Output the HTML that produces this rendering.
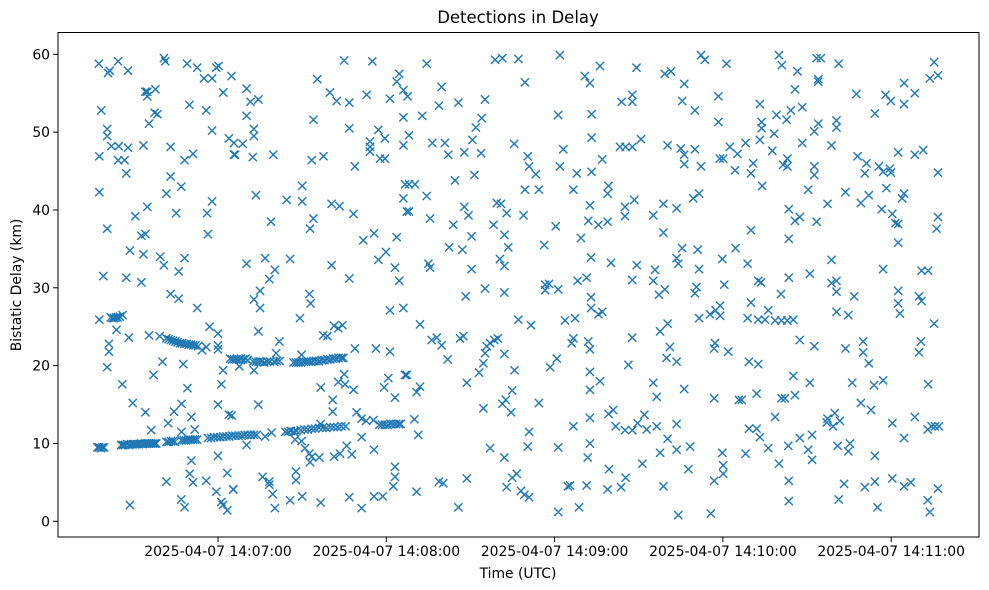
<!DOCTYPE html>
<html><head><meta charset="utf-8"><style>
html,body{margin:0;padding:0;background:#fff;}
svg{display:block;font-family:"DejaVu Sans","Liberation Sans",sans-serif;}
</style></head><body>
<svg id="chart" width="989" height="590" viewBox="0 0 989 590" xmlns="http://www.w3.org/2000/svg">
<rect x="0" y="0" width="989" height="590" fill="#fff"/>
<text x="518" y="23" font-size="16.5" text-anchor="middle" fill="#000">Detections in Delay</text>
<g id="marks"></g>
<rect x="58" y="32.5" width="921" height="504.5" fill="none" stroke="#000" stroke-width="1"/>
<g id="xaxis"></g>
<g id="yaxis"></g>
<text x="518" y="578" font-size="13.9" text-anchor="middle" fill="#000">Time (UTC)</text>
<text x="0" y="0" font-size="13.9" text-anchor="middle" fill="#000" transform="translate(21,285) rotate(-90)">Bistatic Delay (km)</text>
</svg>
<script>
const xTickSec = [60,120,180,240,300];
const xTickLabels = ["2025-04-07 14:07:00","2025-04-07 14:08:00","2025-04-07 14:09:00","2025-04-07 14:10:00","2025-04-07 14:11:00"];
const yTickVals = [0,10,20,30,40,50,60];
const yTickLabels = ["0","10","20","30","40","50","60"];
// seconds since 14:06:00, bistatic delay km
const trackPoints = [
[17,9.5],[17.6,9.5],[18.2,9.4],[18.8,9.5],[19.4,9.5],
[25.5,9.8],[26.2,9.8],[26.9,9.8],[27.6,9.9],[28.3,9.8],[29,9.9],[29.7,9.9],[30.4,9.9],[31.1,9.9],[31.8,9.9],[32.5,10],[33.2,9.9],[33.9,10],[34.6,10],[35.3,10],[36,10],[36.7,10],[37.4,10],[38,10],
[41.6,10.2],[42.4,10.2],[43.2,10.3],[44,10.3],[44.6,10.2],
[47,10.4],[47.8,10.4],[48.6,10.4],[49.4,10.5],[50.2,10.5],[51,10.5],[51.8,10.5],[52.6,10.5],
[56.4,10.7],[57.5,10.7],[58.6,10.8],[59.7,10.8],[60.8,10.8],[61.9,10.9],[63,10.9],[64,10.9],[65.1,11],[66.2,11],[67.3,11],[68.4,11],[69.5,11.1],[70.6,11.1],[71.7,11.1],[72.8,11.1],[73.8,11.1],
[84,11.5],[85,11.5],[86,11.6],[87,11.5],[88,11.6],
[89.5,11.7],[90.8,11.8],[92,11.8],[93.4,11.9],[94.6,11.9],[96,12],[97.3,12],[98.6,12],[100,12.1],[101.3,12.1],[102.6,12.1],[104,12.2],[105.5,12.2],
[117.5,12.4],[118.5,12.4],[119.5,12.4],[120.5,12.4],[121.5,12.5],[122.5,12.5],[123.5,12.5],[124.5,12.5],[125.1,12.5],
[21.8,26.2],[22.4,26.1],[23,26.1],[23.6,26.2],[24.2,26.2],[25,26.3],[26,26.5],
[41.6,23.5],[42.4,23.4],[43.2,23.3],[44,23.2],[44.8,23.1],[45.6,23],[46.4,22.9],[47.2,22.9],[48,22.8],[48.8,22.8],[49.6,22.7],[50.4,22.7],[51.2,22.6],[52,22.6],[52.9,22.5],
[64.3,20.9],[65,20.8],[65.8,20.8],[66.6,20.8],[67.4,20.8],[68.2,20.9],[69,20.8],[69.8,20.9],[70.6,20.7],[72.5,20.5],[73.5,20.5],[74.5,20.5],[75.5,20.5],[76.5,20.4],[77.5,20.5],[78.5,20.5],[80,20.5],[81,20.6],[82,20.6],
[86.9,20.4],[87.8,20.4],[88.7,20.4],[89.6,20.4],[90.5,20.5],[91.4,20.5],[92.3,20.5],[93.2,20.5],[94.1,20.6],[95,20.6],[96,20.6],[97,20.7],[98,20.7],[99,20.8],[100,20.8],[101,20.9],[102,20.9],[103,21],[104,21],[104.7,21]
];
const scatterPoints = [
[17.5,58.8],[20.8,57.6],[21.4,57.9],[24.4,59.1],[27.9,57.9],[40.7,59.5],[41.2,59.1],[49,58.8],[52.6,58.3],[55,56.9],[57.9,56.9],[59.4,58.3],[60.2,58.5],[64.8,57.2],[61.9,55.1],
[34.8,55.2],[34.1,55.2],[37.7,55.5],[34.8,54.6],[18.4,52.8],[37.4,52.5],[38.4,52.3],[35.4,51.1],[49.8,53.5],[55.8,52.8],[20.5,50.4],[20.5,49.5],[22,48.2],[24.6,48.2],[27.9,48],
[33.4,48.3],[43.1,48.1],[57.9,50.2],[63.9,49.2],[65.7,48.6],[65.7,47.1],[17.7,46.9],[24.4,46.4],[26.7,46.4],[48.1,46.4],[51.1,47.2],[27.3,44.7],[43.1,44.3],[46.9,43],[41.6,42.1],
[17.7,42.3],[57.9,41.1],[34.8,40.4],[30.5,39.2],[45.1,39.6],[56.1,39.6],[20.5,37.6],[32.7,36.7],[34.1,36.9],[56.4,36.9],[28.6,34.8],[33.4,34.3],[39.4,34],[40.7,32.9],[48.1,33.8],
[46,32.1],[19.1,31.5],[27.3,31.3],[32.7,30.7],[43.1,29.2],[46,28.6],[52.6,27.4],[17.7,25.9],[23.8,24.6],[28.2,23.6],[35.4,23.9],[39.2,23.8],[57,25],[60,24.1],
[54.3,22],[55.8,22.4],[60,22.6],[60,22.1],[21.1,22.8],[21.1,21.8],[20.5,19.8],[40.2,20.5],[47.6,20.2],[37,18.8],[61.8,19.4],[25.9,17.6],[49.1,17.1],[61.2,17.6],
[29.6,15.2],[34.1,14],[47,15.1],[44.3,14.1],[50.5,13.4],[42.2,12.6],[60,15],[63.9,13.7],[36.2,11.7],[47,11.5],[51.7,11.8],
[50.5,7.8],[60,8.4],[63.3,6.2],[41.6,5.1],[49.9,6.1],[51.1,5],[55.8,5.2],[59.4,3.8],[65.4,4.1],[28.6,2.1],[46.9,2.8],[48.1,1.8],[61.2,2.5],[61.8,2.1],[63.3,1.4],
[70.2,55.6],[71.6,53.9],[74.4,54.2],[70.2,52.1],[72.8,50.4],[72.8,49.5],[66.1,47.1],[68.8,48.5],[72.4,46.8],[79.7,47.1],[95.4,56.8],[105,59.2],[115,59.1],[99.9,55.1],[102.3,54],
[106.8,53.8],[113,54.8],[121.3,54.3],[124.6,57.5],[123.7,56.5],[126.1,55.4],[94,51.6],[106.8,50.5],[117.2,50.3],[119.5,49.2],[114.2,48.8],[114.2,48.1],[126.1,48.3],[126.1,51.9],
[93.4,46.4],[97.6,46.9],[108.8,45.6],[117.8,46.6],[119.5,46.6],[114.2,47.5],[90,43.1],[73.5,41.9],[84.5,41.3],[90,41.1],[100.5,40.8],[103.3,40.5],[108.3,39.5],[126.1,41.5],
[126.7,43.3],[127.3,39.8],[78.9,38.5],[94,38.9],[92.8,37.6],[111.8,36.1],[115.6,37],[123.7,36.5],[70.2,33.1],[76.8,33.8],[85.7,33.7],[80.3,32.3],[78.3,31.1],[100.5,32.9],
[117.2,33.6],[119.9,34.6],[123.1,32.6],[124.6,30.9],[106.8,31.2],[72.8,28.5],[75,29.6],[75,27.4],[92.6,29.2],[93,28],[89.2,26.1],[74.4,24.4],[81.9,23.1],[97.5,23.9],[99,23.8],
[101.4,25.1],[102.9,24.8],[104.4,25.2],[121.3,27.1],[126.1,27.4],[67.6,19.9],[72.8,19.4],[80.7,21.6],[89.8,21.4],[108.8,22.2],[116.3,22.2],[121.3,21.8],[126.7,18.8],
[105,18.9],[102.9,17.9],[105.3,17.6],[108.3,16.9],[96.6,17.2],[100.9,15.6],[100.9,14.1],[120.7,18.4],[119.2,17.2],[123.1,15.9],[74.4,15],[64.9,13.6],[109.4,14],[111.2,13.2],
[112.8,12.9],[115.4,13],[76.8,10.9],[79.1,11.4],[70.2,9.8],[87.5,10.5],[89.8,10.3],[96.6,12.5],[91,9.4],[92.6,8.7],[93.4,8.3],[92.8,7.6],[96.1,8.2],[101.4,8.3],[103.5,8.7],
[105.9,9.7],[107.7,8.6],[111.2,10.8],[115.6,9.2],[75.9,5.7],[78.3,5.1],[78.3,4.7],[79.5,3.5],[87.8,6.4],[87.8,5.3],[65.5,4.1],[80.3,1.7],[85.7,2.7],[90,3.2],[96.6,2.4],
[106.8,3.1],[111.2,1.7],[115.6,3.2],[118.7,3.2],[122.5,4.5],[123.1,5.7],[123.1,7],
[134.4,58.8],[158.8,59.3],[161.4,59.5],[167.1,59.4],[181.9,59.9],[169.4,56.4],[190.8,57.2],[192.6,56.3],[139.7,55.8],[127.6,54.6],[145.7,53.8],[155.2,54.2],[138.8,53.4],
[132.8,52.1],[154,51.8],[151.9,50.6],[181.3,52.2],[193.2,52.3],[128.1,49.6],[136.4,48.6],[140.9,48.6],[150.7,49],[142.1,47.1],[147.8,47.4],[153.8,47.3],[165.6,48.5],[170.4,46.9],
[170.9,45.6],[173.3,44.6],[181.9,45.6],[183.1,47.8],[193.2,49.3],[187.9,44.7],[193.2,44.9],[151.4,44.5],[144.5,43.8],[128.1,43.3],[130.2,43.3],[134.4,41.8],[169.4,42.6],
[174.4,42.6],[186.7,42.6],[147.8,40.4],[149.3,39.3],[159.4,40.9],[160.9,40.8],[162.9,39.6],[168.9,39.3],[128.1,39.8],[135.6,38.9],[143.9,38.1],[158.2,38.1],[180.4,37.9],
[192.6,40.6],[192,38.6],[150.4,36.6],[162.1,36.8],[142.4,35.2],[147.1,34.9],[163.5,35.2],[176.3,35.5],[189.4,36.4],[135,33.1],[135.6,32.6],[150.4,32.4],[160.5,33.7],[162.1,32.8],
[193,33.9],[155.2,29.9],[148.3,28.9],[162.1,29.4],[176.6,30.4],[176.6,29.7],[178,30.5],[181.3,29.8],[188.2,30.9],[191.4,31.3],[193,28.8],[193,27.4],[167.1,25.9],[171.6,25.2],
[183.7,25.8],[187.3,26.1],[132,25.3],[136.2,23.3],[138,23.6],[139.7,22.6],[146.3,23.5],[147.5,23.8],[155.8,22.5],[157,22.9],[158.5,23.3],[159.7,23.5],[155.2,21.6],[154.6,20.3],
[153.1,19.1],[162.1,21.5],[141.9,20.8],[165.7,19.4],[178.4,19.8],[180.8,20.9],[186.1,22.9],[186.7,23.5],[192,23.1],[192.6,22.1],[192.6,19.2],[192.6,16.9],[127.3,18.8],
[130.8,16.6],[132,17.3],[148.7,17.8],[164.9,16.8],[154.6,14.5],[161.4,15.1],[162.6,15.6],[164.5,14],[174.4,15.2],[130,13.1],[131.4,11.1],[170.9,11.5],[186.7,12.2],[192.6,13.3],
[192.6,10],[157,9.4],[162.1,8.2],[170.4,9.6],[181.3,9.5],[191.8,8.2],[130.8,3.8],[138.8,5.1],[140.3,4.9],[148.7,5.5],[145.7,1.8],[162.9,4.4],[164.9,5.6],[166.5,6.1],[168,3.9],
[169.2,3.4],[170.9,3.1],[181.3,1.2],[184.7,4.5],[185.5,4.6],[191.4,4.6],[188.7,1.8],
[196.2,58.5],[209.2,58.3],[219.3,57.5],[221.5,57.8],[232.2,59.9],[233.6,59.3],[241.3,58.8],[260,59.9],[261,58.6],[226.2,56.2],[238.4,54.6],[203.9,53.9],[207.7,54.8],[207.7,53.9],
[225.5,54],[230,52.8],[253.2,53.6],[259.1,52.2],[238.4,51.3],[253.8,51.3],[253.8,50.5],[258.3,49.8],[253.2,49],[203.3,48.1],[205.3,48.1],[207.7,48.1],[210.8,49.1],[220.3,48.3],
[225,47.9],[226.2,47.1],[226.2,45.9],[230,47.8],[232.2,45.6],[238.9,46.6],[240.1,46.6],[242.5,48.1],[245.2,47.2],[248.1,48.6],[244.3,45.1],[250,44.7],[250.8,46],[257.6,47.6],
[261.5,45.8],[197,46.5],[199.2,43.1],[198.9,42.1],[254,43.1],[205.1,40.4],[205.1,39.2],[208.4,41.3],[215.2,39.3],[218.8,40.8],[223.5,40.2],[229.4,41.5],[231.5,42.1],[195.6,38.1],
[198.9,38.5],[218.8,37.1],[250,37.4],[225.5,35.1],[231,34.9],[244.5,35.1],[200.1,33.2],[209.3,32.9],[215.8,32.3],[223.5,33.8],[224.1,33.1],[231.5,32.4],[239.8,33.7],[248.8,33.1],
[207.7,31],[215.2,30.9],[217.2,29.1],[219.3,29.8],[230,29.3],[230.6,30.1],[240.5,30.4],[252.6,30.9],[253.6,30.7],[260.7,29.2],[250,28.1],[195.6,26.6],[197,26.9],[231.5,26.1],
[235.4,26.6],[237.4,27.1],[239,27.7],[239,26.4],[248.8,26.1],[252.6,25.9],[255,25.9],[256.2,27.1],[258.6,25.8],[260.9,25.8],[217.6,24.4],[220.3,25.4],[207.7,23.6],[221.1,22.4],
[219.9,21],[223.5,20.5],[237.2,22.9],[236.9,22.2],[241.9,21.8],[249.3,20.5],[252.6,20.2],[206.3,20.1],[196.2,18],[215.2,17.8],[216.4,16],[226.2,17],[236.9,15.8],[245.7,15.6],
[246.7,15.6],[252,16.4],[260.9,15.8],[199.2,13.8],[200.9,14.3],[201.8,12.2],[205.1,11.7],[207.7,11.7],[209.6,12.6],[212,13.7],[212.8,11.8],[216.4,12.2],[223.5,12.5],[220.3,10.6],
[217.6,8.8],[223.5,9.2],[228.3,9.6],[239.8,8.8],[248.1,8.7],[249.3,11.9],[252,11.9],[253.2,10.8],[256.2,9.4],[258.6,13.4],[260,7.4],[199.4,6.7],[211.3,7.4],[227.7,6.7],
[240.1,7.2],[240.1,6.1],[236.9,5.2],[198.9,4.1],[203.7,4.4],[205.3,5.6],[218.8,4.5],[224.1,0.8],[235.7,1],
[266.6,57.8],[273.4,59.5],[274.9,59.5],[274,56.8],[274,56.5],[281.3,58.8],[265.7,55.5],[287.6,54.9],[298,54.8],[299.9,54],[304.6,56.3],[304.6,53.6],[308.4,55],[315.3,59],
[313.8,56.9],[316.7,57.3],[264.2,52.8],[268.3,53.2],[262.7,51.6],[274,51.1],[272.6,50.1],[280.5,51.5],[280.5,50.6],[294.2,52.4],[268.3,48.6],[278.7,48.3],[288,46.9],[291.2,46],
[290.6,44.7],[295.6,45.6],[297.1,44.9],[299.5,45.3],[299.9,44.8],[302.5,47.4],[308.4,47.1],[311.4,47.7],[316.7,44.8],[263,46.6],[263,45.6],[272.6,45.6],[272.6,44.5],[270.4,42.6],
[283.7,42.3],[289.2,40.9],[292,41.9],[298.3,42.8],[303.9,41.5],[304.6,42.1],[263.5,40.1],[265.7,38.6],[267.4,39.1],[273.4,38.5],[277.3,40.8],[296.6,40.1],[300.4,39.5],[301.5,38.3],
[302.5,38.2],[302.5,35.8],[316.7,39.1],[316.2,37.6],[263.5,36.3],[278.7,33.6],[263.5,31.3],[271,31.8],[297.1,32.4],[310.8,32.2],[313.2,32.2],[278.7,30.6],[280.5,30.9],[280.5,29.5],
[286.8,28.9],[302.5,29.6],[302.5,28],[303.1,26.7],[309.9,28.9],[310.8,28.3],[280.5,26.9],[284.7,26.5],[315.3,25.4],[263,25.8],[265.1,25.9],[267.4,23.3],[272.6,22.5],[283.7,22.2],
[290,23.1],[290,21.7],[292,20.3],[310.6,23.1],[309.9,21.7],[265.1,18.7],[271,17.8],[286.1,17.8],[293.9,17.5],[297.1,18.1],[313.2,17.6],[262.1,15.8],[265.7,16.2],[289.2,15.2],
[292.8,14.3],[277.3,13.2],[277,12.7],[279.9,13.9],[279.3,12.2],[281.7,12.9],[300.4,12.6],[308.4,13.4],[313,11.8],[314.4,12.2],[315.6,12.2],[317,12.2],[263.3,9.7],[267.4,10.7],
[271.8,11.1],[270.4,9.2],[271.8,7.9],[280.9,9.7],[285.3,10],[284.7,9],[294.2,8.4],[304.6,10.7],[263.5,5.2],[263.5,2.6],[281.3,2.8],[283.2,4.8],[290.6,4.4],[294.2,5.1],[300.4,5.5],
[304.6,4.5],[307,5],[295.1,1.8],[313,2.7],[313.8,1.2],[316.7,4.2]
];

const X0 = 218, XS = 2.805, Y0 = 521.3, YS = 7.783;
function xScale(t){ return X0 + (t - 60) * XS; }
function yScale(d){ return Y0 - d * YS; }
const NS = "http://www.w3.org/2000/svg";

const marks = document.getElementById('marks');
const all = trackPoints.concat(scatterPoints);
let pathD = "";
const h = 4.1;
all.forEach(p => {
  const cx = xScale(p[0]), cy = yScale(p[1]);
  pathD += `M${(cx-h).toFixed(1)},${(cy-h).toFixed(1)}L${(cx+h).toFixed(1)},${(cy+h).toFixed(1)}M${(cx-h).toFixed(1)},${(cy+h).toFixed(1)}L${(cx+h).toFixed(1)},${(cy-h).toFixed(1)}`;
});
const path = document.createElementNS(NS, 'path');
path.setAttribute('d', pathD);
path.setAttribute('stroke', '#1f77b4');
path.setAttribute('stroke-width', '1.4');
path.setAttribute('fill', 'none');


marks.appendChild(path);

const xaxis = document.getElementById('xaxis');
xTickSec.forEach((s, i) => {
  const x = xScale(s);
  const tk = document.createElementNS(NS, 'line');
  tk.setAttribute('x1', x); tk.setAttribute('x2', x);
  tk.setAttribute('y1', 537); tk.setAttribute('y2', 542);
  tk.setAttribute('stroke', '#000'); tk.setAttribute('stroke-width', '1');
  
  
  xaxis.appendChild(tk);
  const tx = document.createElementNS(NS, 'text');
  tx.setAttribute('x', x); tx.setAttribute('y', 556);
  tx.setAttribute('font-size', '13.9'); tx.setAttribute('text-anchor', 'middle');
  tx.textContent = xTickLabels[i];
  
  
  xaxis.appendChild(tx);
});
const yaxis = document.getElementById('yaxis');
yTickVals.forEach((v, i) => {
  const y = yScale(v);
  const tk = document.createElementNS(NS, 'line');
  tk.setAttribute('x1', 53); tk.setAttribute('x2', 58);
  tk.setAttribute('y1', y); tk.setAttribute('y2', y);
  tk.setAttribute('stroke', '#000'); tk.setAttribute('stroke-width', '1');
  
  
  yaxis.appendChild(tk);
  const tx = document.createElementNS(NS, 'text');
  tx.setAttribute('x', 50); tx.setAttribute('y', y + 5);
  tx.setAttribute('font-size', '13.9'); tx.setAttribute('text-anchor', 'end');
  tx.textContent = yTickLabels[i];
  
  
  yaxis.appendChild(tx);
});
</script>
</body></html>
